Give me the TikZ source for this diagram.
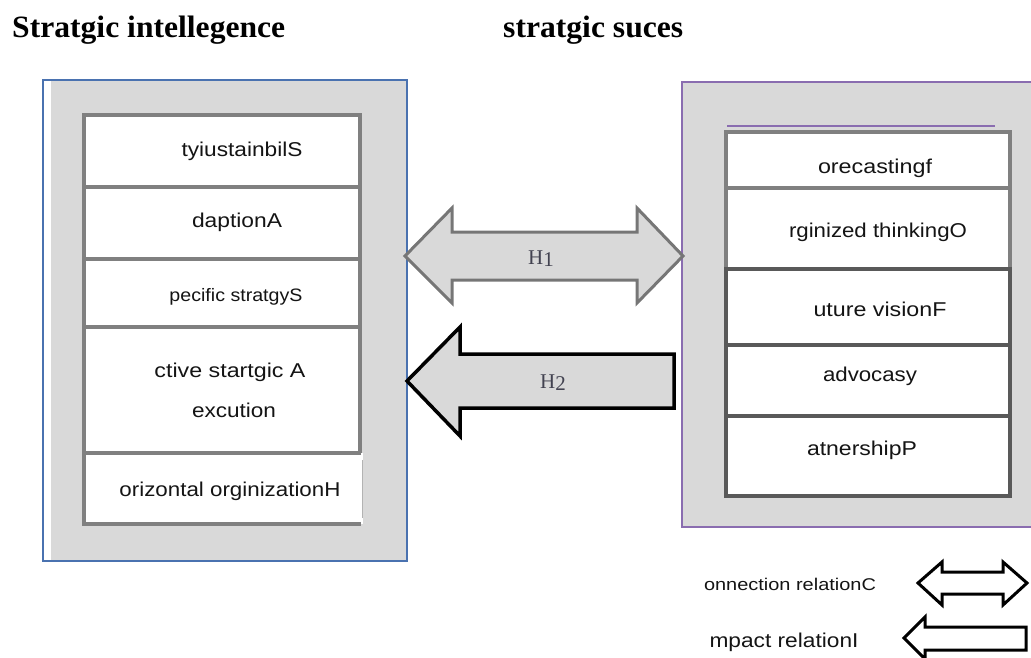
\documentclass[tikz,border=0pt]{standalone}
\usepackage{fontspec}
\setmainfont{Liberation Serif}
\newfontfamily\arialf{Liberation Sans}
\usepackage{graphicx}
\definecolor{boxgray}{RGB}{217,217,217}
\definecolor{rowlight}{RGB}{128,128,128}
\definecolor{rowdark}{RGB}{89,89,89}
\definecolor{hgray}{RGB}{118,118,118}
\definecolor{leftblue}{RGB}{74,114,176}
\definecolor{rightpurple}{RGB}{138,109,176}
\definecolor{txt}{RGB}{20,20,20}
\definecolor{htxt}{RGB}{66,66,80}
\newcommand{\fw}[2]{\resizebox{#1pt}{\height}{#2}}
\begin{document}
\begin{tikzpicture}[x=1pt,y=-1pt,
  lbl/.style={anchor=base, inner sep=0pt, text=txt, font=\arialf\fontsize{20}{24}\selectfont},
  lblsmall/.style={lbl, font=\arialf\fontsize{18}{22}\selectfont},
  lbllegend/.style={lbl, font=\arialf\fontsize{17}{20}\selectfont},
  titletext/.style={anchor=base west, inner sep=0pt, text=black, font=\bfseries\fontsize{31}{34}\selectfont},
  hlabel/.style={anchor=base, inner sep=0pt, text=htxt, font=\fontsize{21}{24}\selectfont},
  rowlightline/.style={draw=rowlight, line width=3.5pt, fill=white},
  rowdarkline/.style={draw=rowdark, line width=3.5pt, fill=white},
  harrowA/.style={draw=hgray, line width=3pt, fill=boxgray, line join=miter},
  harrowB/.style={draw=black, line width=3.5pt, fill=boxgray, line join=miter},
  legarrow/.style={draw=black, line width=3pt, fill=white, line join=miter}]
\useasboundingbox (0,0) rectangle (1031,657);

% titles
\node[titletext] (title1) at (12,37) {\fw{273}{Stratgic intellegence}};
\node[titletext] (title2) at (503,37) {\fw{180}{stratgic suces}};

% left outer box
\fill[boxgray] (51,80) rectangle (407,561);
\draw[leftblue, line width=1.2pt] (43,80) rectangle (407,561);

% left rows
\draw[rowlightline] (84,115) rectangle (360,187);
\draw[rowlightline] (84,187) rectangle (360,259);
\draw[rowlightline] (84,259) rectangle (360,327);
\draw[rowlightline] (84,327) rectangle (360,453);
\fill[white] (84,453) rectangle (363,524);
\draw[rowlight, line width=3.5pt] (361,453) -- (84,453) -- (84,524) -- (361,524);
\draw[rowlight!60, line width=1pt] (362,460) -- (362,518);

\node[lbl] (l1) at (242,156) {\fw{121}{tyiustainbilS}};
\node[lbl] (l2) at (237,227) {\fw{90}{daptionA}};
\node[lblsmall] (l3) at (236,301) {\fw{133}{pecific stratgyS}};
\node[lbl] (l4a) at (230,377) {\fw{151}{ctive startgic A}};
\node[lbl] (l4b) at (234,417) {\fw{84}{excution}};
\node[lbl] (l5) at (230,496) {\fw{221}{orizontal orginizationH}};

% right outer box
\fill[boxgray] (682,82) rectangle (1035,527);
\draw[rightpurple, line width=1.2pt] (1035,82) -- (682,82) -- (682,527) -- (1035,527);
\draw[rightpurple, line width=1.5pt] (727,126) -- (995,126);

% right rows
\draw[rowlightline] (726,132) rectangle (1010,188);
\draw[rowlightline] (726,188) rectangle (1010,269);
\draw[rowdarkline] (726,269) rectangle (1010,345);
\draw[rowdarkline] (726,345) rectangle (1010,416);
\draw[rowdarkline] (726,416) rectangle (1010,496);

\node[lbl] (r1) at (875,173) {\fw{114}{orecastingf}};
\node[lbl] (r2) at (878,237) {\fw{178}{rginized thinkingO}};
\node[lbl] (r3) at (880,316) {\fw{133}{uture visionF}};
\node[lbl] (r4) at (870,381) {\fw{94}{advocasy}};
\node[lbl] (r5) at (862,455) {\fw{110}{atnershipP}};

% H1 double arrow
\draw[harrowA] (405,256) -- (452,208) -- (452,232) -- (637,232) -- (637,208) -- (683,256)
  -- (637,303) -- (637,280) -- (452,280) -- (452,303) -- cycle;
\node[hlabel] (h1) at (541,264) {H\raisebox{-2.5pt}{1}};

% H2 single arrow
\draw[harrowB] (407,381) -- (460,327) -- (460,354) -- (674,354) -- (674,408)
  -- (460,408) -- (460,436) -- cycle;
\node[hlabel] (h2) at (553,388) {H\raisebox{-2.5pt}{2}};

% legend
\node[lbllegend] (leg1) at (790,590) {\fw{172}{onnection relationC}};
\node[lbl] (leg2) at (784,647) {\fw{149}{mpact relationI}};
\draw[legarrow] (918,583) -- (942,562) -- (942,572) -- (1003,572) -- (1003,562) -- (1027,583)
  -- (1003,605) -- (1003,594) -- (942,594) -- (942,605) -- cycle;
\draw[legarrow] (904,638) -- (925,617) -- (925,627) -- (1026,627) -- (1026,650)
  -- (925,650) -- (925,659) -- cycle;
\end{tikzpicture}
\end{document}
